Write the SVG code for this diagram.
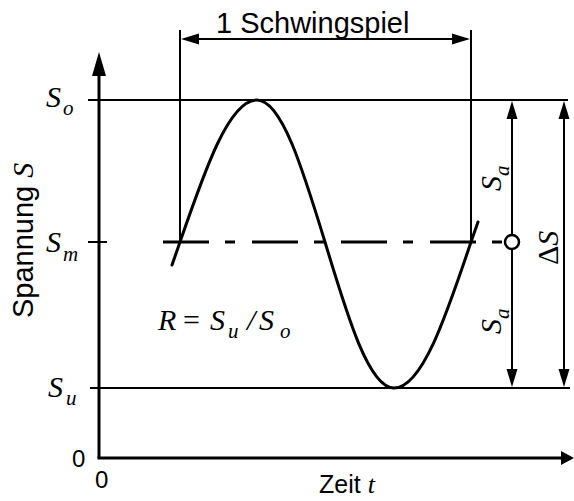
<svg xmlns="http://www.w3.org/2000/svg" width="574" height="501" viewBox="0 0 574 501">
<style>
.ln{stroke:#000;stroke-width:2;fill:none}
.ax{stroke:#000;stroke-width:3;fill:none}
.sans{font-family:"Liberation Sans",Arial,sans-serif;fill:#000}
.mi{font-family:"Liberation Serif","Times New Roman",serif;font-style:italic;fill:#000}
.mu{font-family:"Liberation Serif","Times New Roman",serif;fill:#000}
.ah{fill:#000;stroke:none}
</style>
<rect width="574" height="501" fill="#fff"/>
<g id="axes">
  <line class="ax" x1="99" y1="70" x2="99" y2="458"/>
  <line class="ax" x1="97.5" y1="458" x2="562" y2="458"/>
  <polygon class="ah" points="99,52 92,76 106,76"/>
  <polygon class="ah" points="574,458 561,451 561,465"/>
  <text class="sans" x="72" y="467" font-size="24">0</text>
  <text class="sans" x="95" y="488" font-size="24">0</text>
  <text class="sans" font-size="29" transform="translate(33,318) rotate(-90)">Spannung <tspan class="mi" font-size="30">S</tspan></text>
  <text class="sans" x="319" y="493" font-size="25">Zeit <tspan class="mi" font-size="26">t</tspan></text>
</g>
<g id="levels">
  <line class="ln" x1="88" y1="100" x2="568" y2="100"/>
  <line class="ln" x1="88" y1="242" x2="107" y2="242"/>
  <line class="ln" x1="90" y1="388" x2="570" y2="388"/>
  <text class="mi" x="46" y="107" font-size="30">S<tspan x="63" y="115" font-size="21">o</tspan></text>
  <text class="mi" x="46" y="252" font-size="30">S<tspan x="63" y="261" font-size="21">m</tspan></text>
  <text class="mi" x="48" y="397" font-size="30">S<tspan x="66" y="405" font-size="21">u</tspan></text>
</g>
<g id="mean">
  <line x1="163" y1="242" x2="505" y2="242" stroke="#000" stroke-width="3" stroke-dasharray="46 16 10 17"/>
</g>
<g id="curve">
  <path stroke="#000" stroke-width="3" fill="none" stroke-linecap="round" d="M172,265 L180,242 C205.1,169.3 229.1,100 257,100 C281.6,100 302.8,169.3 325,242 C347.5,316.8 369,388 394,388 C421.9,388 445.9,316.8 471,242 L478,222"/>
</g>
<g id="period">
  <line class="ln" x1="180" y1="30" x2="180" y2="242"/>
  <line class="ln" x1="471" y1="30" x2="471" y2="242"/>
  <line class="ln" x1="196" y1="39" x2="455" y2="39"/>
  <polygon class="ah" points="181,39 199,33.5 199,44.5"/>
  <polygon class="ah" points="470,39 452,33.5 452,44.5"/>
  <text class="sans" x="216" y="33" font-size="29">1 Schwingspiel</text>
</g>
<g id="amplitude">
  <line class="ln" x1="512" y1="115" x2="512" y2="235"/>
  <line class="ln" x1="512" y1="249" x2="512" y2="373"/>
  <polygon class="ah" points="512,101 506.5,119 517.5,119"/>
  <polygon class="ah" points="512,387 506.5,369 517.5,369"/>
  <circle cx="512" cy="242" r="7" fill="#fff" stroke="#000" stroke-width="2.5"/>
  <text class="mi" font-size="30" transform="translate(501,191) rotate(-90)">S<tspan dy="8" font-size="21">a</tspan></text>
  <text class="mi" font-size="30" transform="translate(501,334) rotate(-90)">S<tspan dy="8" font-size="21">a</tspan></text>
</g>
<g id="range">
  <line class="ln" x1="564" y1="115" x2="564" y2="373"/>
  <polygon class="ah" points="564,101 558.5,119 569.5,119"/>
  <polygon class="ah" points="564,387 558.5,369 569.5,369"/>
  <text font-size="30" transform="translate(558,265) rotate(-90)"><tspan class="mu">Δ</tspan><tspan class="mi">S</tspan></text>
</g>
<g id="ratio">
  <text class="mi" x="158" y="330" font-size="30">R</text>
  <text class="mu" x="183" y="330" font-size="30">=</text>
  <text class="mi" x="210" y="330" font-size="30">S<tspan x="228" y="338" font-size="21">u</tspan></text>
  <text class="mi" x="247" y="330" font-size="30">/</text>
  <text class="mi" x="259" y="330" font-size="30">S<tspan x="280" y="338" font-size="21">o</tspan></text>
</g>
</svg>
